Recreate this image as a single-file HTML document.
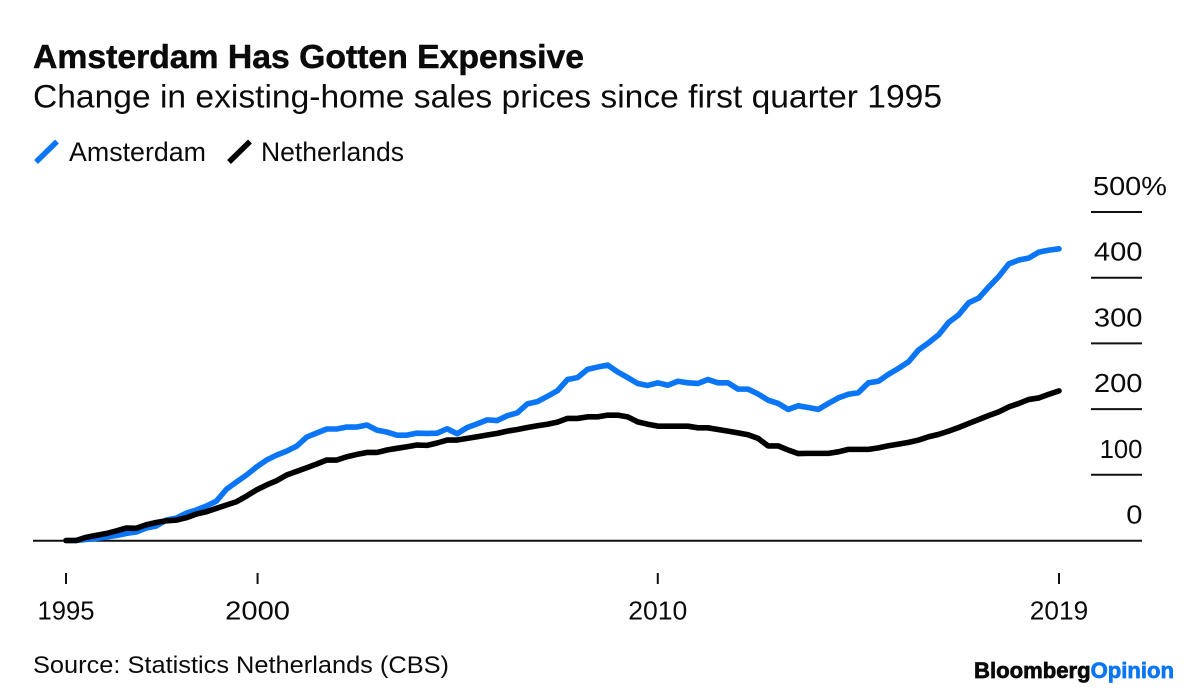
<!DOCTYPE html>
<html lang="en">
<head>
<meta charset="utf-8">
<title>Amsterdam Has Gotten Expensive</title>
<style>
html,body{margin:0;padding:0;background:#fff;}
body{width:1200px;height:694px;overflow:hidden;}
svg{display:block;font-family:"Liberation Sans",sans-serif;}
text{fill:#0b0b0b;}
</style>
</head>
<body>
<svg id="chart" width="1200" height="694" viewBox="0 0 1200 694" xmlns="http://www.w3.org/2000/svg">
  <rect width="1200" height="694" fill="#ffffff"/>
  <text x="33" y="68" font-size="33" font-weight="700" textLength="551" lengthAdjust="spacingAndGlyphs" stroke="#0b0b0b" stroke-width="0.5">Amsterdam Has Gotten Expensive</text>
  <text x="33" y="107.5" font-size="32" textLength="909" lengthAdjust="spacingAndGlyphs">Change in existing-home sales prices since first quarter 1995</text>

  <g>
    <line x1="36" y1="162" x2="57" y2="141.5" stroke="#0a76f6" stroke-width="5.5"/>
    <text x="69" y="161" font-size="26.5" textLength="137" lengthAdjust="spacingAndGlyphs">Amsterdam</text>
    <line x1="229" y1="162" x2="250" y2="141.5" stroke="#000000" stroke-width="5.5"/>
    <text x="261" y="161" font-size="26.5" textLength="143" lengthAdjust="spacingAndGlyphs">Netherlands</text>
  </g>

  <g id="y-axis"></g>
  <g id="x-axis"></g>
  <line x1="33" y1="540.7" x2="1142" y2="540.7" stroke="#111111" stroke-width="2"/>
  <g id="series"></g>

  <text x="33" y="673" font-size="24.5" textLength="416" lengthAdjust="spacingAndGlyphs">Source: Statistics Netherlands (CBS)</text>
  <text x="974" y="678" font-size="22" font-weight="700" textLength="200" lengthAdjust="spacingAndGlyphs" stroke="#0b0b0b" stroke-width="0.7">Bloomberg<tspan fill="#0a76f6" stroke="#0a76f6">Opinion</tspan></text>
</svg>
<script>
const yTicks = [0, 100, 200, 300, 400, 500];
const yTickLabels = ['0', '100', '200', '300', '400', '500%'];
const xTickPositions = [0, 19.1, 59, 99];
const xTickLabels = ['1995', '2000', '2010', '2019'];
const amsterdam = [0,0,1.5,3,5.3,7.6,10.7,13,19,22.1,31,34,41.6,46.4,52.5,60,78,89,99.7,112,122.5,130,136,143.6,157.4,163.6,169.7,169.7,172.7,172.7,175.8,168,165,160.3,160.3,163.4,163,163.4,170,162.4,172,177.5,183.6,182.6,190,194.3,208,211.4,219.5,228,245,248,260.5,264,267,256.6,248,239,236,240,236.3,242.4,240,239,245,240,240,230.4,230.4,223,213.6,208.6,199.5,205,202.4,199.5,208.6,217,222.6,225,240,242.4,253,262,272,290,301,313,332,343.5,362,369,386,402,421,427,430,439,442,444];
const netherlands = [0,0,4.8,7.8,10.6,14.5,19,18.6,24,27.4,30,31,34.7,40.3,43.8,49,54,59,67.7,77,84.5,91,99.7,105.3,110.8,116.4,122.5,122.5,127.5,131,134,134,137.7,140.3,142.7,145.3,144.8,148.4,152.9,152.9,155.4,157.9,160.5,163,166.5,169,172,174.6,177,180.2,185.8,185.8,188.2,188.2,190.8,190.8,188.2,180.6,177,174,174,174,174,171.5,171.5,169,166.5,163.8,160.9,155.4,144,144,137.7,132.3,132.6,132.6,132.6,135,138.7,138.7,138.7,141,144.2,146.7,149.3,152.9,157.9,161.5,166.5,172,178.2,184.2,190.3,195.8,203.4,208.6,214.7,217,222.6,227.7];

const SVG_NS = 'http://www.w3.org/2000/svg';
function xScale(i) { return 66 + i * (1059 - 66) / 99; }
function yScale(v) { return 540.5 - v * (540.5 - 212) / 500; }
function labelWidth(text) {
  return text.split('').reduce(function (sum, ch) {
    if (ch === '1') return sum + 10.5;
    if (ch === '%') return sum + 26;
    if (ch === '9' || ch === '5') return sum + 15.5;
    return sum + 16.2;
  }, 0);
}

const yAxis = document.getElementById('y-axis');
yTicks.forEach(function (v, k) {
  const y = yScale(v);
  if (v !== 0) {
    const tick = document.createElementNS(SVG_NS, 'line');
    
    
    tick.setAttribute('x1', 1091);
    tick.setAttribute('x2', 1142);
    tick.setAttribute('y1', y);
    tick.setAttribute('y2', y);
    tick.setAttribute('stroke', '#111111');
    tick.setAttribute('stroke-width', 2);
    yAxis.appendChild(tick);
  }
  const width = labelWidth(yTickLabels[k]);
  const label = document.createElementNS(SVG_NS, 'text');
  
  
  label.setAttribute('x', v === 500 ? 1093 : 1142.5 - width);
  label.setAttribute('y', y - 17);
  label.setAttribute('font-size', 26);
  label.setAttribute('textLength', width);
  label.setAttribute('lengthAdjust', 'spacingAndGlyphs');
  label.textContent = yTickLabels[k];
  yAxis.appendChild(label);
});

const xAxis = document.getElementById('x-axis');
xTickPositions.forEach(function (p, k) {
  const x = xScale(p);
  const tick = document.createElementNS(SVG_NS, 'line');
  
  
  tick.setAttribute('x1', x);
  tick.setAttribute('x2', x);
  tick.setAttribute('y1', 573);
  tick.setAttribute('y2', 584);
  tick.setAttribute('stroke', '#111111');
  tick.setAttribute('stroke-width', 2);
  xAxis.appendChild(tick);
  const width = labelWidth(xTickLabels[k]);
  const label = document.createElementNS(SVG_NS, 'text');
  
  
  label.setAttribute('x', x - width / 2);
  label.setAttribute('y', 619.5);
  label.setAttribute('font-size', 26);
  label.setAttribute('textLength', width);
  label.setAttribute('lengthAdjust', 'spacingAndGlyphs');
  label.textContent = xTickLabels[k];
  xAxis.appendChild(label);
});

function linePath(values) {
  return values.map(function (v, i) {
    return (i ? 'L' : 'M') + xScale(i).toFixed(2) + ' ' + yScale(v).toFixed(2);
  }).join(' ');
}

const seriesGroup = document.getElementById('series');
const amsterdamLine = document.createElementNS(SVG_NS, 'path');


amsterdamLine.setAttribute('d', linePath(amsterdam));
amsterdamLine.setAttribute('fill', 'none');
amsterdamLine.setAttribute('stroke', '#0a76f6');
amsterdamLine.setAttribute('stroke-width', 5.6);
amsterdamLine.setAttribute('stroke-linejoin', 'round');
amsterdamLine.setAttribute('stroke-linecap', 'round');
seriesGroup.appendChild(amsterdamLine);

const netherlandsLine = document.createElementNS(SVG_NS, 'path');


netherlandsLine.setAttribute('d', linePath(netherlands));
netherlandsLine.setAttribute('fill', 'none');
netherlandsLine.setAttribute('stroke', '#000000');
netherlandsLine.setAttribute('stroke-width', 5.6);
netherlandsLine.setAttribute('stroke-linejoin', 'round');
netherlandsLine.setAttribute('stroke-linecap', 'round');
seriesGroup.appendChild(netherlandsLine);
</script>
</body>
</html>
